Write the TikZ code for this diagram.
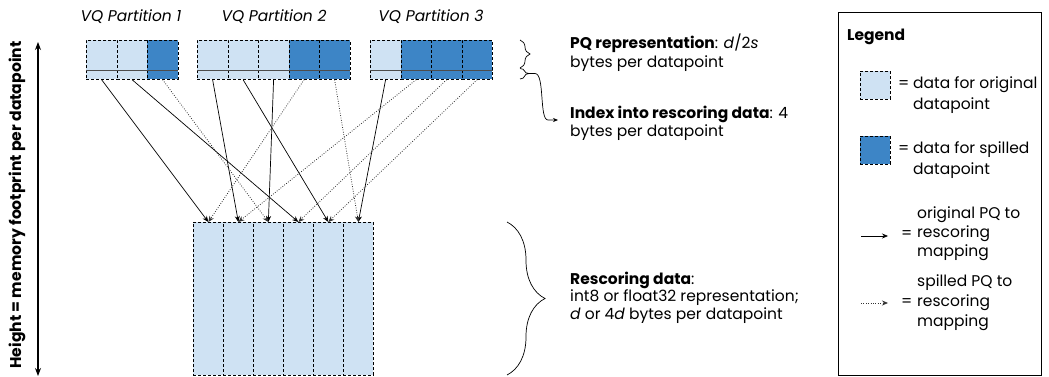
\documentclass[tikz,border=0pt]{standalone}
\usepackage{fontspec}
\setmainfont{Poppins}
\usetikzlibrary{arrows.meta,decorations.pathreplacing,calc}
\definecolor{lightb}{HTML}{CFE2F3}
\definecolor{darkb}{HTML}{3D85C6}
\begin{document}
\begin{tikzpicture}[x=1pt,y=-1pt,
  every node/.style={font=\fontsize{15.5}{18}\selectfont, inner sep=0pt},
  cellL/.style={rectangle, draw, dashed, dash pattern=on 3pt off 2pt, line width=0.7pt, fill=lightb, minimum width=30.5pt, minimum height=39pt, anchor=north west},
  cellD/.style={cellL, fill=darkb},
  rcol/.style={rectangle, draw, dashed, dash pattern=on 3pt off 2pt, line width=0.7pt, fill=lightb, minimum width=30pt, minimum height=153pt, anchor=north west},
  divline/.style={draw=black!70, line width=0.7pt},
  solarr/.style={line width=0.7pt, -{Stealth[length=6pt,width=5pt]}},
  dotarr/.style={line width=0.8pt, draw=black!70, dash pattern=on 0.8pt off 1.6pt, -{Stealth[length=6pt,width=5pt]}, color=black!80},
  lbl/.style={font=\fontsize{15.5}{18}\selectfont\itshape},
  brc/.style={decorate, line width=0.7pt},
]
\useasboundingbox (0,0) rectangle (1049,377);

% partition labels
\node[lbl] (l1) at (131,17) {VQ Partition 1};
\node[lbl] (l2) at (274,17) {VQ Partition 2};
\node[lbl] (l3) at (431,17) {VQ Partition 3};

% partition 1
\node[cellL] (p1c1) at (86,40) {};
\node[cellL] (p1c2) at (116.5,40) {};
\node[cellD] (p1c3) at (147,40) {};
% partition 2
\node[cellL] (p2c1) at (197,40) {};
\node[cellL] (p2c2) at (227.5,40) {};
\node[cellL] (p2c3) at (258,40) {};
\node[cellD] (p2c4) at (288.5,40) {};
\node[cellD] (p2c5) at (319,40) {};
% partition 3
\node[cellL] (p3c1) at (370,40) {};
\node[cellD] (p3c2) at (400.5,40) {};
\node[cellD] (p3c3) at (431,40) {};
\node[cellD] (p3c4) at (461.5,40) {};

\draw[divline] ([yshift=9pt]p1c1.south west) -- ([yshift=9pt]p1c3.south east);
\draw[divline] ([yshift=9pt]p2c1.south west) -- ([yshift=9pt]p2c5.south east);
\draw[divline] ([yshift=9pt]p3c1.south west) -- ([yshift=9pt]p3c4.south east);

% rescoring data
\node[rcol] (r1) at (193,222) {};
\node[rcol] (r2) at (223,222) {};
\node[rcol] (r3) at (253,222) {};
\node[rcol] (r4) at (283,222) {};
\node[rcol] (r5) at (313,222) {};
\node[rcol] (r6) at (343,222) {};

% mappings
\draw[solarr] (p1c1.south) -- (r1.north);
\draw[solarr] (p2c1.south) -- (r2.north);
\draw[solarr] (p2c3.south) -- (r3.north);
\draw[solarr] (p1c2.south) -- (r4.north);
\draw[solarr] (p2c2.south) -- (r5.north);
\draw[solarr] (p3c1.south) -- (r6.north);
\draw[dotarr] (p2c4.south) -- (r1.north);
\draw[dotarr] (p3c2.south) -- (r2.north);
\draw[dotarr] (p1c3.south) -- (r3.north);
\draw[dotarr] (p3c3.south) -- (r4.north);
\draw[dotarr] (p3c4.south) -- (r5.north);
\draw[dotarr] (p2c5.south) -- (r6.north);

% height arrow
\node[rotate=90, font=\fontsize{15.6}{18}\selectfont\bfseries] (htext) at (17,205) {Height = memory footprint per datapoint};
\coordinate (htop) at (38,42);
\coordinate (hbot) at (38,376);
\draw[line width=1.1pt, {Stealth[length=8pt,width=6pt]}-{Stealth[length=8pt,width=6pt]}] (htop) -- (hbot);

% braces
\draw[brc, decoration={brace, amplitude=10pt}] (520,40) -- (520,68);
\coordinate (b2a) at (520,68.5);
\coordinate (b2tip) at (529,73.5);
\coordinate (b2b) at (520,79);
\draw[line width=0.7pt] (b2a) .. controls (526,68.5) and (523,73.5) .. (b2tip) .. controls (523,73.5) and (526,79) .. (b2b);
\coordinate (idxarr) at (558,120);
\draw[line width=0.7pt, -{Stealth[length=5pt,width=4pt]}] (b2tip) -- (535,73.5) .. controls (545,73.5) and (539,120) .. (548,120) -- (idxarr);
\draw[brc, decoration={brace, amplitude=38pt}] (507,222) -- (507,375);

% right texts
\node[anchor=west, align=left, font=\fontsize{15.5}{19}\selectfont] (pqtxt) at (570,52.5) {\textbf{PQ representation}: \textit{d}/2\textit{s}\\bytes per datapoint};
\node[anchor=west, align=left, font=\fontsize{15.5}{17.5}\selectfont] (idxtxt) at (570,123.5) {\textbf{Index into rescoring data}: 4\\bytes per datapoint};
\node[anchor=west, align=left, font=\fontsize{15.5}{17.5}\selectfont] (restxt) at (570,297.5) {\textbf{Rescoring data}:\\int8 or float32 representation;\\\textit{d} or 4\textit{d} bytes per datapoint};

% legend
\node[draw, line width=0.8pt, rectangle, minimum width=203pt, minimum height=363pt, anchor=north west] (legbox) at (838,12) {};
\node[anchor=west, font=\fontsize{15.5}{18}\selectfont\bfseries] (legtitle) at (847,37) {Legend};
\node[cellL, minimum width=30pt, minimum height=28pt] (swL) at (860,71) {};
\node[cellD, minimum width=30pt, minimum height=28pt] (swD) at (860,136) {};
\node[anchor=west] (eq1) at (898,85) {=};
\node[anchor=west, align=left, font=\fontsize{15.5}{21}\selectfont] (t1) at (913,95.5) {data for original\\datapoint};
\node[anchor=west] (eq2) at (898,150) {=};
\node[anchor=west, align=left, font=\fontsize{15.5}{21}\selectfont] (t2) at (913,160.5) {data for spilled\\datapoint};
\coordinate (la1) at (861,236);
\coordinate (la2) at (888,236);
\draw[solarr] (la1) -- (la2);
\node[anchor=west] (eq3) at (901,235) {=};
\node[anchor=west, align=left, font=\fontsize{15.5}{19}\selectfont] (t3) at (917,234) {original PQ to\\rescoring\\mapping};
\coordinate (lb1) at (861,303);
\coordinate (lb2) at (888,303);
\draw[dotarr] (lb1) -- (lb2);
\node[anchor=west] (eq4) at (901,303) {=};
\node[anchor=west, align=left, font=\fontsize{15.5}{20}\selectfont] (t4) at (917,303) {spilled PQ to\\rescoring\\mapping};
\end{tikzpicture}
\end{document}
